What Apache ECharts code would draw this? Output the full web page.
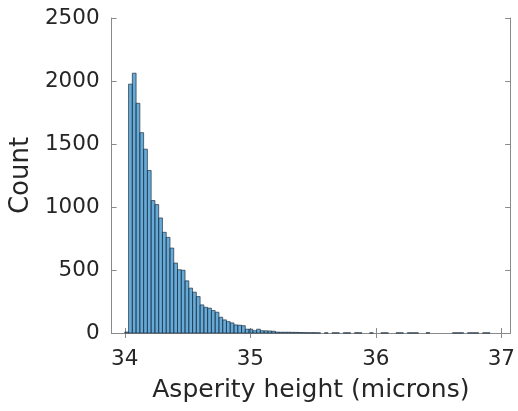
<!DOCTYPE html>
<html>
<head>
<meta charset="utf-8">
<script src="https://cdn.jsdelivr.net/npm/echarts@6/dist/echarts.min.js"></script>
<style>html,body{margin:0;padding:0;background:#fff}#c{width:518px;height:411px}</style>
</head>
<body>
<div id="c"></div>
<script>
var binStart = 34.0;
var binWidth = 0.03;
var counts = [
  8, 1975, 2062, 1823, 1590, 1459, 1290, 1051, 1019, 913,
  799, 759, 674, 555, 502, 498, 414, 356, 324, 289,
  223, 204, 197, 178, 165, 125, 104, 90, 80, 64,
  62, 58, 30, 30, 18, 30, 18, 17, 16, 14,
  7, 6, 6, 6, 5, 5, 4, 3, 2, 2,
  2, 1, 0, 1, 0, 1, 1, 0, 1, 1,
  0, 2, 1, 0, 0, 1, 0, 0, 1, 1,
  0, 0, 1, 1, 0, 1, 1, 1, 0, 0,
  2, 0, 0, 0, 0, 0, 0, 1, 1, 1,
  0, 1, 1, 1, 0, 1, 1
];
var xTicks = [34, 35, 36, 37];
var yTicks = [0, 500, 1000, 1500, 2000, 2500];
var xName = 'Asperity height (microns)';
var yName = 'Count';

var data = [];
counts.forEach(function (c, i) {
  if (c > 0) data.push([binStart + i * binWidth, binStart + (i + 1) * binWidth, c]);
});

var font = '"DejaVu Sans", "Liberation Sans", Arial, sans-serif';
var axisCol = '#8a8a8a';
var txtCol = '#262626';
var chart = echarts.init(document.getElementById('c'), null, {renderer: 'canvas'});
chart.setOption({
  animation: false,
  grid: {left: 110, right: 5, top: 18, bottom: 78, containLabel: false},
  xAxis: [{
    type: 'value', min: 33.895, max: 37.07, position: 'bottom',
    name: xName, nameLocation: 'middle', nameGap: 45,
    nameTextStyle: {fontFamily: font, fontSize: 25, color: txtCol},
    axisLine: {show: true, lineStyle: {color: axisCol, width: 1}},
    axisTick: {show: true, inside: true, length: 5, customValues: xTicks, lineStyle: {color: axisCol}},
    axisLabel: {show: true, customValues: xTicks, margin: 15, fontFamily: font, fontSize: 21.5, color: txtCol},
    splitLine: {show: false}
  }, {
    type: 'value', min: 33.895, max: 37.07, position: 'top',
    axisLine: {show: true, lineStyle: {color: axisCol, width: 1}},
    axisTick: {show: true, inside: true, length: 5, customValues: xTicks, lineStyle: {color: axisCol}},
    axisLabel: {show: false}, splitLine: {show: false}
  }],
  yAxis: [{
    type: 'value', min: 0, max: 2500, interval: 500, position: 'left',
    name: yName, nameLocation: 'middle', nameGap: 77, nameRotate: 90,
    nameTextStyle: {fontFamily: font, fontSize: 26, color: txtCol},
    axisLine: {show: true, lineStyle: {color: axisCol, width: 1}},
    axisTick: {show: true, inside: true, length: 5, lineStyle: {color: axisCol}},
    axisLabel: {show: true, margin: 12, fontFamily: font, fontSize: 21.5, color: txtCol,
      formatter: function (v) { return String(v); }},
    splitLine: {show: false}
  }, {
    type: 'value', min: 0, max: 2500, interval: 500, position: 'right',
    axisLine: {show: true, lineStyle: {color: axisCol, width: 1}},
    axisTick: {show: true, inside: true, length: 5, lineStyle: {color: axisCol}},
    axisLabel: {show: false}, splitLine: {show: false}
  }],
  series: [{
    type: 'custom',
    xAxisIndex: 0, yAxisIndex: 0,
    data: data,
    encode: {x: [0, 1], y: 2},
    renderItem: function (params, api) {
      var p0 = api.coord([api.value(0), api.value(2)]);
      var p1 = api.coord([api.value(1), 0]);
      return {
        type: 'rect',
        shape: {x: p0[0], y: p0[1], width: p1[0] - p0[0], height: p1[1] - p0[1]},
        style: {fill: 'rgba(0,114,189,0.6)', stroke: '#1f2f3f', lineWidth: 0.7}
      };
    }
  }]
});
</script>
</body>
</html>
